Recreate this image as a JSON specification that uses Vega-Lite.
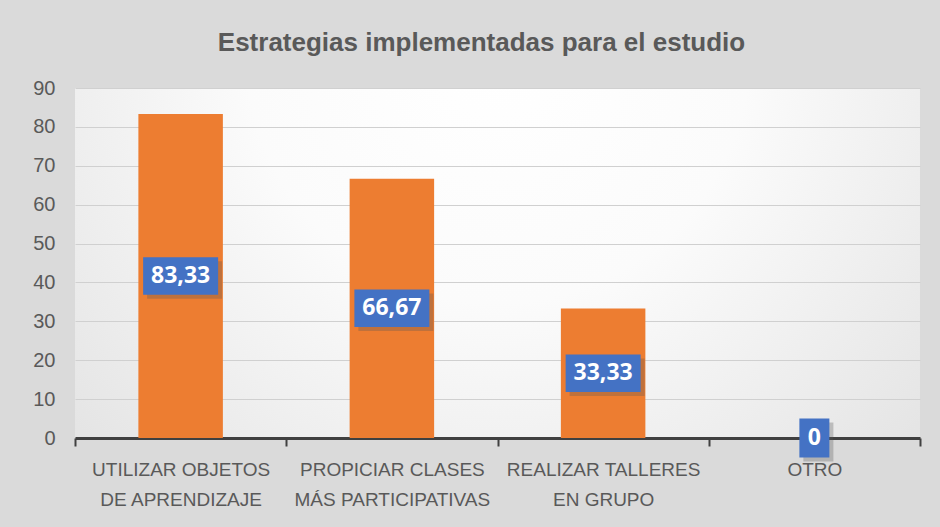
{
  "$schema": "https://vega.github.io/schema/vega-lite/v6.json",
  "width": 845,
  "height": 350,
  "autosize": {"type": "none"},
  "padding": {"left": 75, "top": 88, "right": 20, "bottom": 89},
  "background": "#dadada",
  "config": {
    "locale": {"number": {"decimal": ",", "thousands": ".", "grouping": [3], "currency": ["", "€"]}},
    "view": {
      "stroke": null,
      "fill": {"gradient": "radial", "x1": 0.5, "y1": 0.25, "r1": 0, "x2": 0.5, "y2": 0.25, "r2": 0.85,
        "stops": [{"offset": 0, "color": "#ffffff"}, {"offset": 0.35, "color": "#fbfbfb"}, {"offset": 1, "color": "#dadada"}]}
    },
    "axisY": {
      "labelOverlap": false,
      "labelFont": "Liberation Sans",
      "labelFontSize": 20,
      "labelColor": "#595959",
      "labelPadding": 20,
      "ticks": false,
      "domain": false,
      "gridColor": "#d0d0d0",
      "gridWidth": 1,
      "title": null
    }
  },
  "title": {
    "text": "Estrategias implementadas para el estudio",
    "font": "Liberation Sans",
    "fontSize": 26,
    "fontWeight": "bold",
    "color": "#595959",
    "frame": "group",
    "anchor": "middle",
    "dx": -16,
    "offset": 22
  },
  "data": {
    "values": [
      {"estrategia": "UTILIZAR OBJETOS DE APRENDIZAJE", "porcentaje": 83.33},
      {"estrategia": "PROPICIAR CLASES MÁS PARTICIPATIVAS", "porcentaje": 66.67},
      {"estrategia": "REALIZAR TALLERES EN GRUPO", "porcentaje": 33.33},
      {"estrategia": "OTRO", "porcentaje": 0}
    ]
  },
  "encoding": {
    "x": {
      "field": "estrategia",
      "type": "nominal",
      "sort": null,
      "title": null,
      "scale": {"paddingInner": 0, "paddingOuter": 0},
      "axis": {
        "labelAngle": 0,
        "labelExpr": "datum.value ? [join(slice(split(datum.value, ' '), 0, 2), ' '), join(slice(split(datum.value, ' '), 2), ' ')] : ''",
        "labelFont": "Liberation Sans",
        "labelFontSize": 19,
        "labelColor": "#595959",
        "labelLineHeight": 30,
        "labelPadding": 14,
        "labelLimit": 300,
        "labelOverlap": false,
        "domainColor": "#404040",
        "domainWidth": 3,
        "tickColor": "#404040",
        "tickWidth": 2,
        "tickSize": 8,
        "tickBand": "extent"
      }
    }
  },
  "layer": [
    {
      "mark": {"type": "bar", "color": "#ED7D31", "width": {"band": 0.4}},
      "encoding": {
        "y": {
          "field": "porcentaje",
          "type": "quantitative",
          "title": null,
          "scale": {"domain": [0, 90]},
          "axis": {"values": [0, 10, 20, 30, 40, 50, 60, 70, 80, 90], "title": null}
        }
      }
    },
    {
      "transform": [{"calculate": "datum.porcentaje / 2", "as": "mitad"}],
      "mark": {"type": "point", "filled": true, "color": "#555555", "opacity": 0.3, "size": 5625, "xOffset": 4, "yOffset": 4},
      "encoding": {
        "y": {"field": "mitad", "type": "quantitative", "title": null, "axis": {"values": [0, 10, 20, 30, 40, 50, 60, 70, 80, 90], "title": null}},
        "shape": {"condition": {"test": "datum.porcentaje == 0", "value": "M-0.4,-0.52H0.4V0.52H-0.4Z"}, "value": "M-1,-0.5H1V0.5H-1Z"}
      }
    },
    {
      "transform": [{"calculate": "datum.porcentaje / 2", "as": "mitad"}],
      "mark": {"type": "point", "filled": true, "color": "#4472C4", "opacity": 1, "size": 5625},
      "encoding": {
        "y": {"field": "mitad", "type": "quantitative", "title": null, "axis": {"values": [0, 10, 20, 30, 40, 50, 60, 70, 80, 90], "title": null}},
        "shape": {"condition": {"test": "datum.porcentaje == 0", "value": "M-0.4,-0.52H0.4V0.52H-0.4Z"}, "value": "M-1,-0.5H1V0.5H-1Z"}
      }
    },
    {
      "transform": [{"calculate": "datum.porcentaje / 2", "as": "mitad"}],
      "mark": {"type": "text", "color": "#ffffff", "font": "Open Sans", "fontWeight": "bold", "fontSize": 23, "baseline": "middle", "align": "center"},
      "encoding": {
        "y": {"field": "mitad", "type": "quantitative", "title": null, "axis": {"values": [0, 10, 20, 30, 40, 50, 60, 70, 80, 90], "title": null}},
        "text": {"field": "porcentaje", "type": "quantitative", "format": ".2~f"}
      }
    }
  ]
}
